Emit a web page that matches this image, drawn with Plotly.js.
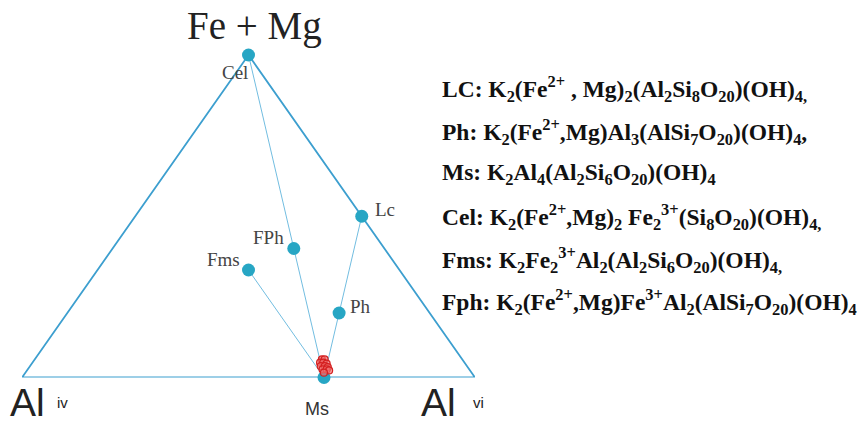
<!DOCTYPE html>
<html>
<head>
<meta charset="utf-8">
<script src="https://cdn.plot.ly/plotly-3.0.1.min.js"></script>
<style>html,body{margin:0;padding:0;background:#fff;}#chart{width:859px;height:426px;}</style>
</head>
<body>
<div id="chart"></div>
<script>
// Ternary components (fractions): Fe+Mg (apex), Al iv (left), Al vi (right)
const vertexNames = ['Fe + Mg', 'Al iv', 'Al vi'];
const vertexFeMg = [1, 0, 0];
const vertexAlVI = [0, 0, 1];

const endmembers = ['Cel', 'Lc', 'FPh', 'Fms', 'Ph', 'Ms'];
const endFeMg = [1, 0.5, 0.4, 1/3, 0.2, 0];
const endAlIV = [0, 0, 0.2, 1/3, 0.2, 1/3];
const endAlVI = [0, 0.5, 0.4, 1/3, 0.6, 2/3];

// tie lines: from endmember to Ms
const tieFrom = ['Cel', 'Lc', 'Fms'];
const tieTo = ['Ms', 'Ms', 'Ms'];

// analysed samples (clustered near Ms)
const sampleFeMg = [0.056, 0.056, 0.046, 0.046, 0.043, 0.035, 0.035, 0.032, 0.025, 0.025, 0.022, 0.015];
const sampleAlVI = [0.634, 0.640, 0.635, 0.642, 0.651, 0.642, 0.651, 0.659, 0.651, 0.660, 0.667, 0.659];

const formulas = [
  'LC: K<sub>2</sub>(Fe<sup>2+</sup> , Mg)<sub>2</sub>(Al<sub>2</sub>Si<sub>8</sub>O<sub>20</sub>)(OH)<sub>4,</sub>',
  'Ph: K<sub>2</sub>(Fe<sup>2+</sup>,Mg)Al<sub>3</sub>(AlSi<sub>7</sub>O<sub>20</sub>)(OH)<sub>4</sub>,',
  'Ms: K<sub>2</sub>Al<sub>4</sub>(Al<sub>2</sub>Si<sub>6</sub>O<sub>20</sub>)(OH)<sub>4</sub>',
  'Cel: K<sub>2</sub>(Fe<sup>2+</sup>,Mg)<sub>2</sub> Fe<sub>2</sub><sup>3+</sup>(Si<sub>8</sub>O<sub>20</sub>)(OH)<sub>4,</sub>',
  'Fms: K<sub>2</sub>Fe<sub>2</sub><sup>3+</sup>Al<sub>2</sub>(Al<sub>2</sub>Si<sub>6</sub>O<sub>20</sub>)(OH)<sub>4,</sub>',
  'Fph: K<sub>2</sub>(Fe<sup>2+</sup>,Mg)Fe<sup>3+</sup>Al<sub>2</sub>(AlSi<sub>7</sub>O<sub>20</sub>)(OH)<sub>4</sub>'
];

// ternary -> cartesian (flattened triangle via axis scaling)
const tx = (a, c) => c + a / 2;
const ty = (a) => a;

const traces = [];
const triA = vertexFeMg.concat([vertexFeMg[0]]);
const triC = vertexAlVI.concat([vertexAlVI[0]]);
traces.push({
  type: 'scatter', mode: 'lines',
  x: triA.map((a, i) => tx(a, triC[i])), y: triA.map(ty),
  line: {color: '#3d9fcf', width: 1.8}, hoverinfo: 'skip', cliponaxis: false
});
tieFrom.forEach((f, k) => {
  const i = endmembers.indexOf(f), j = endmembers.indexOf(tieTo[k]);
  traces.push({
    type: 'scatter', mode: 'lines',
    x: [tx(endFeMg[i], endAlVI[i]), tx(endFeMg[j], endAlVI[j])],
    y: [ty(endFeMg[i]), ty(endFeMg[j])],
    line: {color: '#72bde0', width: 1}, hoverinfo: 'skip', cliponaxis: false
  });
});
traces.push({
  type: 'scatter', mode: 'markers',
  x: endFeMg.map((a, i) => tx(a, endAlVI[i])), y: endFeMg.map(ty),
  marker: {color: '#27a6c4', size: 13}, text: endmembers, cliponaxis: false
});
traces.push({
  type: 'scatter', mode: 'markers',
  x: sampleFeMg.map((a, i) => tx(a, sampleAlVI[i])), y: sampleFeMg.map(ty),
  marker: {symbol: 'circle', size: 7, color: 'rgba(240,110,110,0.7)', line: {color: '#d42020', width: 1.2}},
  cliponaxis: false
});

const labelShift = {Cel: [-14, -17], Lc: [23, 7], FPh: [-25, 11], Fms: [-25, 11], Ph: [21, 7], Ms: [-7, -31]};
const annotations = [];
endmembers.forEach((n, i) => {
  const isMs = n === 'Ms';
  annotations.push({
    x: tx(endFeMg[i], endAlVI[i]), y: ty(endFeMg[i]), xref: 'x', yref: 'y',
    text: n, showarrow: false, xanchor: 'center', yanchor: 'middle',
    xshift: labelShift[n][0], yshift: labelShift[n][1],
    font: isMs ? {family: 'Liberation Sans, Arial', size: 18, color: '#333'}
               : {family: 'Liberation Serif, Times New Roman', size: 19, color: '#444'}
  });
});
const [topName, leftName, rightName] = vertexNames.map(s => s.split(' '));
annotations.push({xref: 'paper', yref: 'paper', x: 254/859, xanchor: 'center', y: 1 - 26/426, yanchor: 'middle',
  text: vertexNames[0], showarrow: false,
  font: {family: 'Liberation Serif, Times New Roman', size: 39, color: '#222'}});
annotations.push({xref: 'paper', yref: 'paper', x: 8/859, xanchor: 'left', y: 0, yanchor: 'bottom',
  text: leftName[0], showarrow: false, font: {family: 'Liberation Sans, Arial', size: 39, color: '#222'}});
annotations.push({xref: 'paper', yref: 'paper', x: 55/859, xanchor: 'left', y: 1 - 402/426, yanchor: 'middle',
  text: leftName[1], showarrow: false, font: {family: 'Liberation Sans, Arial', size: 15, color: '#222'}});
annotations.push({xref: 'paper', yref: 'paper', x: 419/859, xanchor: 'left', y: 0, yanchor: 'bottom',
  text: rightName[0], showarrow: false, font: {family: 'Liberation Sans, Arial', size: 39, color: '#222'}});
annotations.push({xref: 'paper', yref: 'paper', x: 471/859, xanchor: 'left', y: 1 - 402/426, yanchor: 'middle',
  text: rightName[1], showarrow: false, font: {family: 'Liberation Sans, Arial', size: 15, color: '#222'}});
const formulaY = [89, 132, 174, 217, 260, 302];
formulas.forEach((f, i) => {
  annotations.push({xref: 'paper', yref: 'paper', x: 440/859, xanchor: 'left', y: 1 - formulaY[i]/426, yanchor: 'middle',
    text: '<b>' + f + '</b>', showarrow: false,
    font: {family: 'Liberation Serif, Times New Roman', size: 23.5, color: '#111'}});
});

const layout = {
  width: 859, height: 426,
  margin: {l: 0, r: 0, t: 0, b: 0},
  paper_bgcolor: '#fff', plot_bgcolor: '#fff',
  showlegend: false,
  xaxis: {range: [0, 1], domain: [22/859, 475/859], visible: false, fixedrange: true},
  yaxis: {range: [0, 1], domain: [(426 - 377.5)/426, (426 - 55)/426], visible: false, fixedrange: true},
  annotations: annotations
};
Plotly.newPlot('chart', traces, layout, {staticPlot: true});
</script>
</body>
</html>
